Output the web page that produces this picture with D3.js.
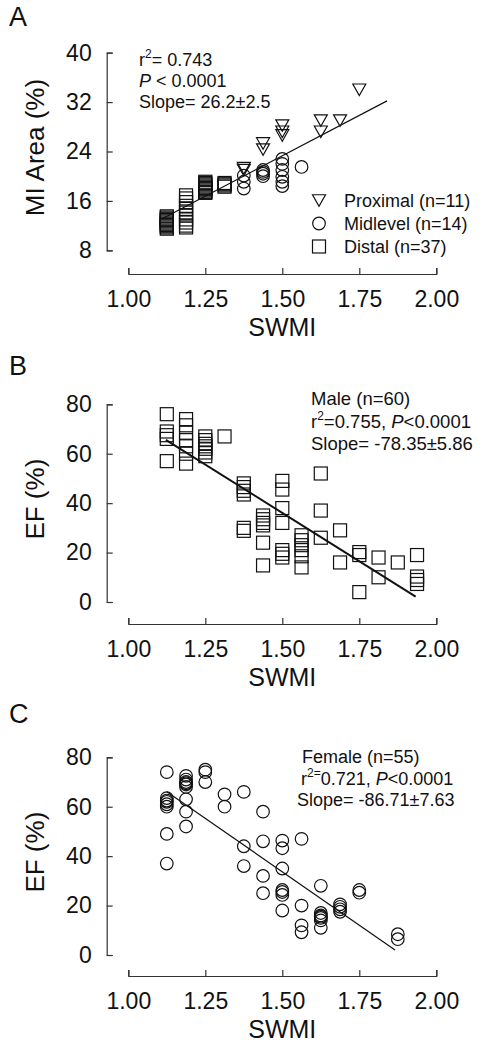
<!DOCTYPE html>
<html><head><meta charset="utf-8">
<script src="https://cdn.jsdelivr.net/npm/d3@7"></script>
<style>
html,body{margin:0;padding:0;background:#fff;}
svg{display:block;font-family:"Liberation Sans",Arial,Helvetica,sans-serif;}
</style></head>
<body>
<svg id="chart" width="495" height="1050"></svg>
<script>
// ---------- DATA ----------
const xTicks = [1.00, 1.25, 1.50, 1.75, 2.00];
const yTicksA = [8, 16, 24, 32, 40];
const yTicksEF = [0, 20, 40, 60, 80];

// Panel A: SWMI vs MI Area (%)
const proximal = [[1.375,21.3],[1.375,21.0],[1.4375,25.3],[1.4375,24.3],[1.5,28.2],[1.5,27.2],[1.5,26.6],
  [1.625,29.0],[1.625,27.2],[1.6875,29.0],[1.75,34.0]];
const midlevel = [[1.375,20.1],[1.375,19.1],[1.375,18.0],[1.4375,21.0],[1.4375,20.7],[1.4375,20.4],[1.4375,20.0],
  [1.5,22.8],[1.5,22.0],[1.5,21.0],[1.5,19.9],[1.5,19.1],[1.5,18.4],[1.5625,21.5]];
const distal = [[1.125,13.5],[1.125,13.3],[1.125,13.1],[1.125,12.9],[1.125,12.7],[1.125,12.5],[1.125,12.3],[1.125,12.1],[1.125,11.9],[1.125,11.7],[1.125,11.5],
  [1.1875,16.9],[1.1875,16.4],[1.1875,15.8],[1.1875,15.2],[1.1875,14.7],[1.1875,14.1],[1.1875,13.6],[1.1875,13.0],[1.1875,12.5],[1.1875,12.0],[1.1875,11.7],
  [1.25,19.1],[1.25,18.9],[1.25,18.7],[1.25,18.5],[1.25,18.3],[1.25,18.1],[1.25,17.9],[1.25,17.7],[1.25,17.5],[1.25,17.4],[1.25,17.3],
  [1.3125,18.9],[1.3125,18.7],[1.3125,18.5],[1.3125,18.3]];
const fitA = [[1.11,13.1],[1.84,32.2]];

// Panel B: Male
const male = [[1.125,76],[1.125,69],[1.125,67.5],[1.125,66],[1.125,57],
  [1.1875,74],[1.1875,71.5],[1.1875,68.5],[1.1875,65.5],[1.1875,63],[1.1875,60],[1.1875,56],
  [1.25,67],[1.25,65.5],[1.25,64],[1.25,63],[1.25,62],[1.25,60.5],[1.25,59],
  [1.3125,67],
  [1.375,48],[1.375,46.5],[1.375,45],[1.375,43.5],[1.375,30],[1.375,28.8],
  [1.4375,35],[1.4375,33.5],[1.4375,32],[1.4375,31],[1.4375,24],[1.4375,14.8],
  [1.5,49],[1.5,45.5],[1.5,38],[1.5,32],[1.5,21],[1.5,19.5],[1.5,18],
  [1.5625,27],[1.5625,25],[1.5625,23],[1.5625,21],[1.5625,18.5],[1.5625,14],
  [1.625,52],[1.625,37],[1.625,26],
  [1.6875,29],[1.6875,16],
  [1.75,20.2],[1.75,19],[1.75,4],
  [1.8125,18],[1.8125,10],
  [1.875,16],
  [1.9375,19],[1.9375,10.3],[1.9375,8.9],[1.9375,7.3]];
const fitB = [[1.122,65.6],[1.933,2.2]];

// Panel C: Female
const female = [[1.125,74],[1.125,63.5],[1.125,62.5],[1.125,62],[1.125,61],[1.125,60],[1.125,49],[1.125,37],
  [1.1875,72.5],[1.1875,71],[1.1875,70],[1.1875,69.5],[1.1875,69],[1.1875,68],[1.1875,63],[1.1875,58],[1.1875,52],
  [1.25,75],[1.25,74],[1.25,70],
  [1.3125,65],[1.3125,60],
  [1.375,66],[1.375,44],[1.375,36],
  [1.4375,58],[1.4375,46],[1.4375,32],[1.4375,25],
  [1.5,46.3],[1.5,43.2],[1.5,35],[1.5,26.3],[1.5,25.5],[1.5,24.3],[1.5,18],
  [1.5625,47],[1.5625,20],[1.5625,12],[1.5625,9.2],
  [1.625,28],[1.625,17],[1.625,16],[1.625,15.5],[1.625,15],[1.625,14],[1.625,11],
  [1.6875,20.5],[1.6875,19.5],[1.6875,18.5],[1.6875,17.5],
  [1.75,26.3],[1.75,25.2],
  [1.875,8.4],[1.875,6.4]];
const fitC = [[1.125,66.1],[1.866,2.0]];

const legendLabels = ["Proximal (n=11)", "Midlevel (n=14)", "Distal (n=37)"];

// ---------- DRAW ----------
const svg = d3.select("#chart");
const INK = "#111";
const AX = "#333";
const x = d3.scaleLinear().domain([1, 2]).range([128.3, 436.3]);

const sq = 13;
function drawSquare(g, pts, y) {
  g.selectAll(null).data(pts).enter().append("rect")
    .attr("x", d => x(d[0]) - sq/2).attr("y", d => y(d[1]) - sq/2)
    .attr("width", sq).attr("height", sq)
    .attr("fill", "none").attr("stroke", INK).attr("stroke-width", 1.2);
}
function drawCircle(g, pts, y) {
  g.selectAll(null).data(pts).enter().append("circle")
    .attr("cx", d => x(d[0])).attr("cy", d => y(d[1])).attr("r", 6.3)
    .attr("fill", "none").attr("stroke", INK).attr("stroke-width", 1.2);
}
function triPath(cx, cy) {
  const w = 13, h = 11.5;
  return `M${cx - w/2},${cy - h/2}L${cx + w/2},${cy - h/2}L${cx},${cy + h/2}Z`;
}
function drawTri(g, pts, y) {
  g.selectAll(null).data(pts).enter().append("path")
    .attr("d", d => triPath(x(d[0]), y(d[1])))
    .attr("fill", "none").attr("stroke", INK).attr("stroke-width", 1.2);
}

function panel(cfg) {
  const g = svg.append("g");
  const y = d3.scaleLinear().domain(cfg.yDomain).range(cfg.yRange);
  // y axis
  const ya = g.append("g").attr("transform", `translate(${cfg.yAxisX},0)`)
    .call(d3.axisLeft(y).tickValues(cfg.yTicks).tickSizeInner(-6).tickSizeOuter(-6).tickPadding(15));
  ya.select(".domain").attr("stroke", AX).attr("stroke-width", 1.2);
  ya.selectAll(".tick line").attr("stroke", AX).attr("stroke-width", 1.2);
  ya.selectAll(".tick text").attr("font-size", 23).attr("fill", INK)
    .attr("font-family", "Liberation Sans, Arial, sans-serif");
  // x axis
  const xa = g.append("g").attr("transform", `translate(0,${cfg.xAxisY})`)
    .call(d3.axisBottom(x).tickValues(xTicks).tickFormat(d3.format(".2f")).tickSizeInner(-6).tickSizeOuter(-6).tickPadding(16.5));
  xa.select(".domain").attr("stroke", AX).attr("stroke-width", 1.2);
  xa.selectAll(".tick line").attr("stroke", AX).attr("stroke-width", 1.2);
  xa.selectAll(".tick text").attr("font-size", 23).attr("fill", INK)
    .attr("font-family", "Liberation Sans, Arial, sans-serif");
  // axis titles
  g.append("text").attr("x", x(1.5)).attr("y", cfg.xAxisY + 62).attr("text-anchor", "middle")
    .attr("font-size", 25).attr("fill", INK).text("SWMI");
  const cy = (cfg.yRange[0] + cfg.yRange[1]) / 2 - 4;
  g.append("text").attr("transform", `translate(44,${cy}) rotate(-90)`).attr("text-anchor", "middle")
    .attr("font-size", 26).attr("fill", INK).text(cfg.yLabel);
  // panel letter
  g.append("text").attr("x", 9).attr("y", cfg.letterY).attr("font-size", 27).attr("fill", INK).text(cfg.letter);
  // fit line
  g.append("line")
    .attr("x1", x(cfg.fit[0][0])).attr("y1", y(cfg.fit[0][1]))
    .attr("x2", x(cfg.fit[1][0])).attr("y2", y(cfg.fit[1][1]))
    .attr("stroke", INK).attr("stroke-width", cfg.fitWidth);
  return {g, y};
}

// Panel A
const A = panel({yDomain:[8,40], yRange:[250.3,52.7], yTicks:yTicksA, yAxisX:106.7, xAxisY:274,
  yLabel:"MI Area (%)", letter:"A", letterY:26, fit:fitA, fitWidth:1.2});
drawSquare(A.g, distal, A.y);
drawCircle(A.g, midlevel, A.y);
drawTri(A.g, proximal, A.y);
// annotation A
{
  const fs = 18;
  const t1 = A.g.append("text").attr("x", 139).attr("y", 66).attr("font-size", fs).attr("fill", INK);
  t1.append("tspan").text("r");
  t1.append("tspan").attr("font-size", 12).attr("dy", -8).text("2");
  t1.append("tspan").attr("dy", 8).text("= 0.743");
  const t2 = A.g.append("text").attr("x", 139).attr("y", 87).attr("font-size", fs).attr("fill", INK);
  t2.append("tspan").attr("font-style", "italic").text("P");
  t2.append("tspan").text(" < 0.0001");
  A.g.append("text").attr("x", 139).attr("y", 108).attr("font-size", fs).attr("fill", INK).text("Slope= 26.2\u00B12.5");
  // legend
  const lx = 319, baselines = [206.5, 229.5, 252.5];
  A.g.append("path").attr("d", triPath(lx, baselines[0] - 6)).attr("fill", "none").attr("stroke", INK).attr("stroke-width", 1.2);
  A.g.append("circle").attr("cx", lx).attr("cy", baselines[1] - 6).attr("r", 6.3).attr("fill", "none").attr("stroke", INK).attr("stroke-width", 1.2);
  A.g.append("rect").attr("x", lx - sq/2).attr("y", baselines[2] - 6 - sq/2).attr("width", sq).attr("height", sq)
    .attr("fill", "none").attr("stroke", INK).attr("stroke-width", 1.2);
  legendLabels.forEach((lab, i) => {
    A.g.append("text").attr("x", 344).attr("y", baselines[i]).attr("font-size", 18).attr("fill", INK).text(lab);
  });
}

// Panel B
const B = panel({yDomain:[0,80], yRange:[602,404.3], yTicks:yTicksEF, yAxisX:106.7, xAxisY:624,
  yLabel:"EF (%)", letter:"B", letterY:375, fit:fitB, fitWidth:2});
drawSquare(B.g, male, B.y);
{
  const fs = 18.5;
  B.g.append("text").attr("x", 311).attr("y", 405).attr("font-size", fs).attr("fill", INK).text("Male (n=60)");
  const t2 = B.g.append("text").attr("x", 311).attr("y", 428).attr("font-size", fs).attr("fill", INK);
  t2.append("tspan").text("r");
  t2.append("tspan").attr("font-size", 12).attr("dy", -8).text("2");
  t2.append("tspan").attr("dy", 8).text("=0.755, ");
  t2.append("tspan").attr("font-style", "italic").text("P");
  t2.append("tspan").text("<0.0001");
  B.g.append("text").attr("x", 311).attr("y", 450).attr("font-size", fs).attr("fill", INK).text("Slope= -78.35\u00B15.86");
}

// Panel C
const C = panel({yDomain:[0,80], yRange:[955,757.3], yTicks:yTicksEF, yAxisX:106.7, xAxisY:976,
  yLabel:"EF (%)", letter:"C", letterY:723, fit:fitC, fitWidth:1.2});
drawCircle(C.g, female, C.y);
{
  const fs = 18;
  C.g.append("text").attr("x", 302).attr("y", 763).attr("font-size", fs).attr("fill", INK).text("Female (n=55)");
  const t2 = C.g.append("text").attr("x", 301).attr("y", 785).attr("font-size", fs).attr("fill", INK);
  t2.append("tspan").text("r");
  t2.append("tspan").attr("font-size", 12).attr("dy", -8).text("2=");
  t2.append("tspan").attr("dy", 8).text("0.721, ");
  t2.append("tspan").attr("font-style", "italic").text("P");
  t2.append("tspan").text("<0.0001");
  C.g.append("text").attr("x", 297).attr("y", 806).attr("font-size", fs).attr("fill", INK).text("Slope= -86.71\u00B17.63");
}
</script>
</body></html>
